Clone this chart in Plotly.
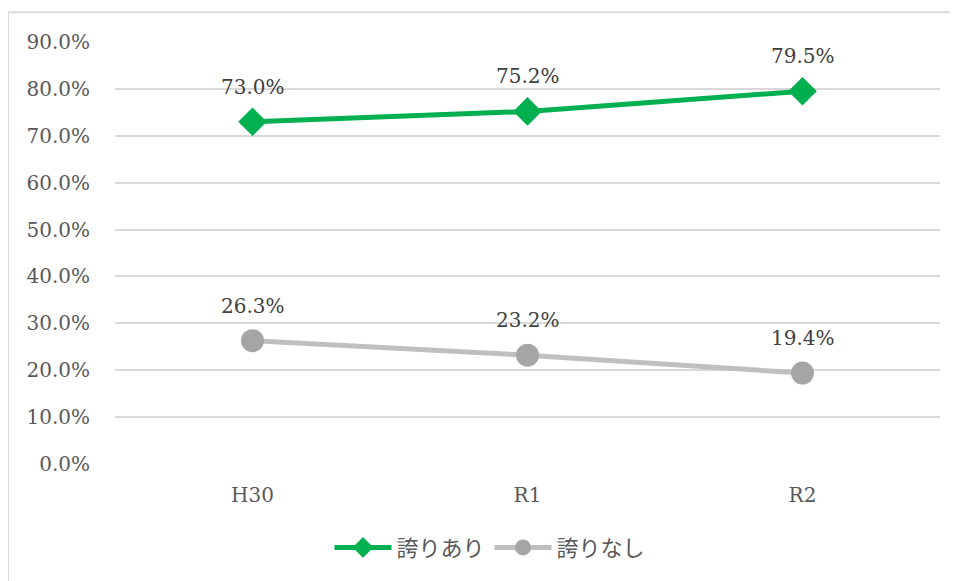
import plotly.graph_objects as go

categories = ["H30", "R1", "R2"]
series_names = ["誇りあり", "誇りなし"]
pride_yes = [73.0, 75.2, 79.5]
pride_no = [26.3, 23.2, 19.4]
y_ticks = [0, 10, 20, 30, 40, 50, 60, 70, 80, 90]
y_tick_labels = [f"{v:.1f}%" for v in y_ticks]

OFF = 8  # page body margin
W, H = 958 - OFF, 581 - OFF
L, T = 115 - OFF, 42 - OFF
R = W - (940 - OFF)
B = H - (466 - OFF)

serif = "DejaVu Serif"
cjk = "Noto Sans CJK JP"

fig = go.Figure()
fig.add_trace(go.Scatter(
    x=categories, y=pride_yes, name=series_names[0], mode="lines+markers",
    line=dict(color="#00B050", width=5),
    marker=dict(symbol="diamond", size=22, color="#00B050"),
))
fig.add_trace(go.Scatter(
    x=categories, y=pride_no, name=series_names[1], mode="lines+markers",
    line=dict(color="#BFBFBF", width=5),
    marker=dict(symbol="circle", size=23, color="#A5A5A5"),
))

for vals in (pride_yes, pride_no):
    for c, v in zip(categories, vals):
        fig.add_annotation(x=c, y=v, text=f"{v:.1f}%", showarrow=False,
                           yshift=35, font=dict(family=serif, size=20, color="#404040"))

pw = W - L - R
ph = H - T - B
bx0 = (8 - 115) / pw
bx1 = (1000 - 115) / pw
by_top = (466 - 12) / ph
by_bot = (466 - 640) / ph
fig.add_shape(type="line", xref="paper", yref="paper", x0=bx0, x1=bx1, y0=by_top, y1=by_top,
              line=dict(color="#D9D9D9", width=2), layer="below")
fig.add_shape(type="line", xref="paper", yref="paper", x0=bx0, x1=bx0, y0=by_bot, y1=by_top,
              line=dict(color="#D9D9D9", width=2), layer="below")

fig.update_layout(
    width=W, height=H,
    margin=dict(l=L, r=R, t=T, b=B, pad=0),
    paper_bgcolor="white", plot_bgcolor="white",
    showlegend=True,
    legend=dict(orientation="h", x=(490 - 115) / pw, xanchor="center", y=(466 - 550) / ph, yanchor="middle",
                font=dict(family=cjk, size=22, color="#595959"), itemwidth=57),
    xaxis=dict(type="category", range=[-0.5, 2.5], showgrid=False, zeroline=False,
               showline=False, ticks="", tickfont=dict(family=serif, size=20, color="#595959"),
               ticklabelstandoff=17),
    yaxis=dict(range=[0, 90], tickvals=y_ticks, ticktext=y_tick_labels,
               showgrid=True, gridcolor="#D9D9D9", gridwidth=1.5, zeroline=False,
               showline=False, ticks="", tickfont=dict(family=serif, size=20, color="#595959"),
               ticklabelstandoff=24),
)

fig.write_html("out.html")
